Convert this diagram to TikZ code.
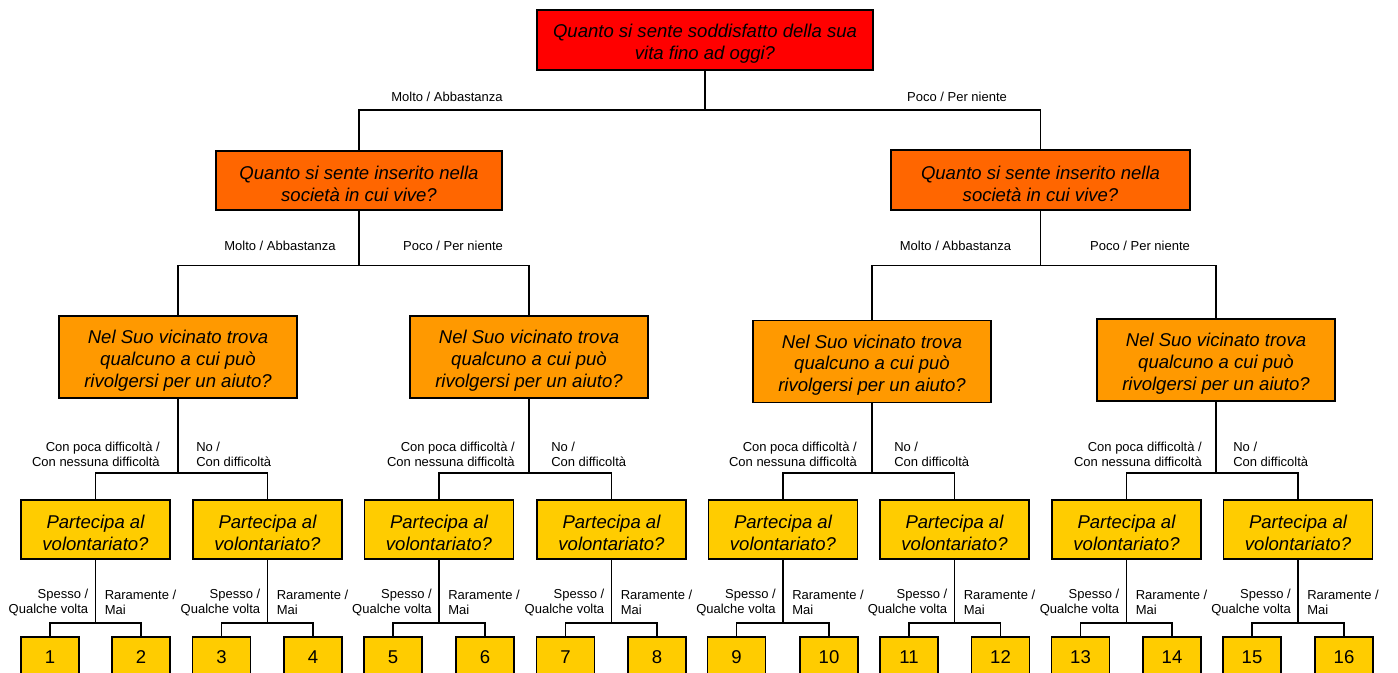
\documentclass[tikz,border=0pt]{standalone}
\usepackage{fontspec}
\setmainfont{Liberation Sans}
\newcommand\questionfont{\fontsize{13.9pt}{16.3pt}\selectfont\itshape}
\newcommand\leaffont{\fontsize{13.9pt}{16.1pt}\selectfont}
\newcommand\branchfont{\fontsize{9.75pt}{11.25pt}\selectfont}
\newcommand\qs{\rule{0pt}{15.5pt}}
\definecolor{qred}{HTML}{FF0000}
\definecolor{qorange}{HTML}{FF6600}
\definecolor{qamber}{HTML}{FF9900}
\definecolor{qyellow}{HTML}{FFCC00}
\begin{document}
\begin{tikzpicture}[x=0.75pt,y=-0.75pt,
  sz/.style 2 args={minimum width=#1*0.75pt, minimum height=#2*0.75pt},
  question/.style={draw=black, line width=1.2pt, inner sep=0pt, align=center,
    font=\questionfont},
  leaf/.style={draw=black, line width=1.2pt, inner sep=0pt, fill=qyellow, font=\leaffont, sz={58}{40}},
  branch/.style={inner sep=0pt, font=\branchfont},
  link/.style={line width=0.9pt, draw=black}]
\useasboundingbox (0,0) rectangle (1398,672);
\clip (0,0) rectangle (1398,672);

% questions (\qs lifts the first line's top so the text sits a little low)
\node[question, fill=qred, sz={336}{60}] (root) at (705,40)
  {\qs Quanto si sente soddisfatto della sua\\vita fino ad oggi?};
\node[question, fill=qorange, sz={286}{59}] (sa) at (359,180.5)
  {\qs Quanto si sente inserito nella\\società in cui vive?};
\node[question, fill=qorange, sz={299}{60}] (sb) at (1040.5,180)
  {\qs Quanto si sente inserito nella\\società in cui vive?};
\foreach \n/\x/\y in {va/178/357, vb/529/357, vc/872/361.5, vd/1216/360}
  \node[question, fill=qamber, sz={238}{82}] (\n) at (\x,\y)
    {\qs Nel Suo vicinato trova\\qualcuno a cui può\\rivolgersi per un aiuto?};
\foreach \i/\x in {1/95.5, 2/267.5, 3/439, 4/611.5, 5/783, 6/954.5, 7/1126.5, 8/1298}
  \node[question, fill=qyellow, sz={149}{59}] (p\i) at (\x,529.5)
    {\qs Partecipa al\\volontariato?};
\foreach \i/\x in {1/50, 2/141, 3/221.5, 4/313, 5/393, 6/485, 7/565.5, 8/657,
                   9/736.5, 10/829, 11/909, 12/1000.5, 13/1080.5, 14/1172, 15/1252, 16/1344}
  \node[leaf] (n\i) at (\x,657) {\i};

% junction levels
\coordinate (y110) at (0,110);
\coordinate (y265) at (0,265.5);
\coordinate (y473) at (0,473);
\coordinate (y623) at (0,623);

% connectors
\draw[link] (root.south) -- (root.south |- y110) coordinate (j0) -| (sa.north);
\draw[link] (j0) -| (sb.north);
\draw[link] (sa.south) -- (sa.south |- y265) coordinate (ja) -| (va.north);
\draw[link] (ja) -| (vb.north);
\draw[link] (sb.south) -- (sb.south |- y265) coordinate (jb) -| (vc.north);
\draw[link] (jb) -| (vd.north);
\foreach \v/\a/\b in {va/1/2, vb/3/4, vc/5/6, vd/7/8} {
  \draw[link] (\v.south) -- (\v.south |- y473) coordinate (k\v) -| (p\a.north);
  \draw[link] (k\v) -| (p\b.north);
}
\foreach \i in {1,...,8} {
  \pgfmathtruncatemacro\a{2*\i-1}
  \pgfmathtruncatemacro\b{2*\i}
  \draw[link] (p\i.south) -- (p\i.south |- y623) coordinate (m\i) -| (n\a.north);
  \draw[link] (m\i) -| (n\b.north);
}

% branch labels
\node[branch] (t1) at (447,97) {Molto / Abbastanza};
\node[branch] (t2) at (957,97) {Poco / Per niente};
\node[branch] (sa1) at (280,246) {Molto / Abbastanza};
\node[branch] (sa2) at (453,246) {Poco / Per niente};
\node[branch] (sb1) at (955.5,246) {Molto / Abbastanza};
\node[branch] (sb2) at (1140,246) {Poco / Per niente};
\foreach \n/\l/\r in {va/160/196, vb/515/551, vc/857/894, vd/1202/1233} {
  \node[branch, anchor=east, align=right] (c\n) at (\l,454.5)
    {Con poca difficoltà /\\Con nessuna difficoltà};
  \node[branch, anchor=west, align=left] (d\n) at (\r,454.5)
    {No /\\Con difficoltà};
}
\foreach \i/\x in {1/95.5, 2/267.5, 3/439, 4/611.5, 5/783, 6/954.5, 7/1126.5, 8/1298} {
  \node[branch, anchor=east, align=right] (s\i) at (\x-7,602.5)
    {Spesso /\\Qualche volta};
  \node[branch, anchor=west, align=left] (r\i) at (\x+9,602.5)
    {Raramente /\\Mai};
}
\end{tikzpicture}
\end{document}
